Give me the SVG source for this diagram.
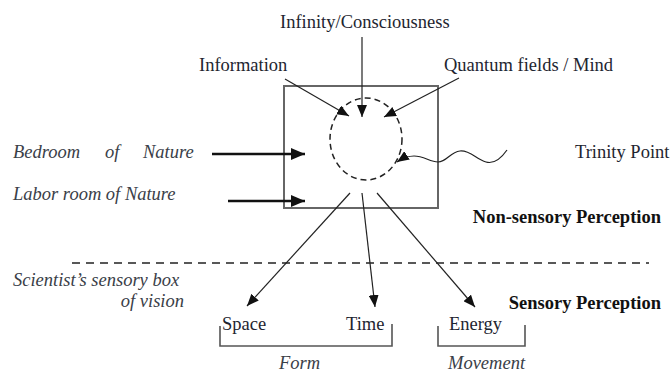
<svg xmlns="http://www.w3.org/2000/svg" width="672" height="374" viewBox="0 0 672 374">
<defs>
<style>
text{font-family:'Liberation Serif','DejaVu Serif',serif;font-size:18.5px;fill:#1e2530}
.it{font-style:italic;fill:#3a4048}
.b{font-weight:bold;fill:#111}
.ln{stroke:#222;stroke-width:1.2;fill:none}
.thick{stroke:#111;stroke-width:2.6;fill:none}
.gray{stroke:#666;stroke-width:2;fill:none}
</style>
<marker id="ah" viewBox="0 0 12 10" refX="12" refY="5" markerWidth="12" markerHeight="10" markerUnits="userSpaceOnUse" orient="auto"><path d="M0,0 L12,5 L0,10 Z" fill="#111"/></marker>
<marker id="ahb" viewBox="0 0 14 12" refX="14" refY="6" markerWidth="14" markerHeight="12" markerUnits="userSpaceOnUse" orient="auto"><path d="M0,0 L14,6 L0,12 Z" fill="#111"/></marker>
</defs>
<rect width="672" height="374" fill="#fff"/>

<g id="box"><rect x="284" y="86" width="154" height="122" class="gray"/></g>
<g id="trinity-circle"><ellipse cx="366" cy="139" rx="36" ry="41" fill="none" stroke="#222" stroke-width="1.5" stroke-dasharray="6,4"/></g>
<g id="divider"><line x1="72" y1="263" x2="649" y2="263" stroke="#222" stroke-width="1.5" stroke-dasharray="8,6"/></g>

<g id="connectors">
<line x1="362" y1="37" x2="362" y2="117" class="ln" marker-end="url(#ah)"/>
<line x1="285" y1="79" x2="349" y2="116" class="ln" marker-end="url(#ah)"/>
<line x1="459" y1="78" x2="384" y2="117" class="ln" marker-end="url(#ah)"/>
<path d="M507,150 C500,160 493,164 486,162 C476,159 470,150 460,151 C450,152 447,162 438,162 C430,162 424,156 414,156 C408,156 403,158 397,162" class="ln" marker-end="url(#ah)"/>
<line x1="212" y1="154" x2="305" y2="154" class="thick" marker-end="url(#ahb)"/>
<line x1="228" y1="201" x2="305" y2="201" class="thick" marker-end="url(#ahb)"/>
<line x1="350" y1="193" x2="247" y2="306" class="ln" marker-end="url(#ah)"/>
<line x1="362" y1="193" x2="375" y2="307" class="ln" marker-end="url(#ah)"/>
<line x1="377" y1="193" x2="475" y2="307" class="ln" marker-end="url(#ah)"/>
</g>

<g id="brackets">
<polyline points="220,326 220,346 392,346 392,324" stroke="#555" stroke-width="1.6" fill="none"/>
<polyline points="438,326 438,346 525,346 525,325" stroke="#555" stroke-width="1.6" fill="none"/>
</g>

<g id="labels" font-family="'Liberation Serif','DejaVu Serif',serif">
<text x="280" y="28">Infinity/Consciousness</text>
<text x="199" y="71">Information</text>
<text x="444" y="71">Quantum fields / Mind</text>
<text x="575" y="158">Trinity Point</text>
<text class="it" x="13" y="158">Bedroom</text>
<text class="it" x="105" y="158">of</text>
<text class="it" x="143" y="158">Nature</text>
<text class="it" x="13" y="200">Labor room of Nature</text>
<text class="b" x="661" y="223" text-anchor="end">Non-sensory Perception</text>
<text class="it" x="13" y="286">Scientist’s sensory box</text>
<text class="it" x="184" y="307" text-anchor="end">of vision</text>
<text class="b" x="661" y="309" text-anchor="end">Sensory Perception</text>
<text x="222" y="330">Space</text>
<text x="346" y="330">Time</text>
<text x="449" y="330">Energy</text>
<text class="it" x="279" y="369">Form</text>
<text class="it" x="448" y="369">Movement</text>
</g>
</svg>
